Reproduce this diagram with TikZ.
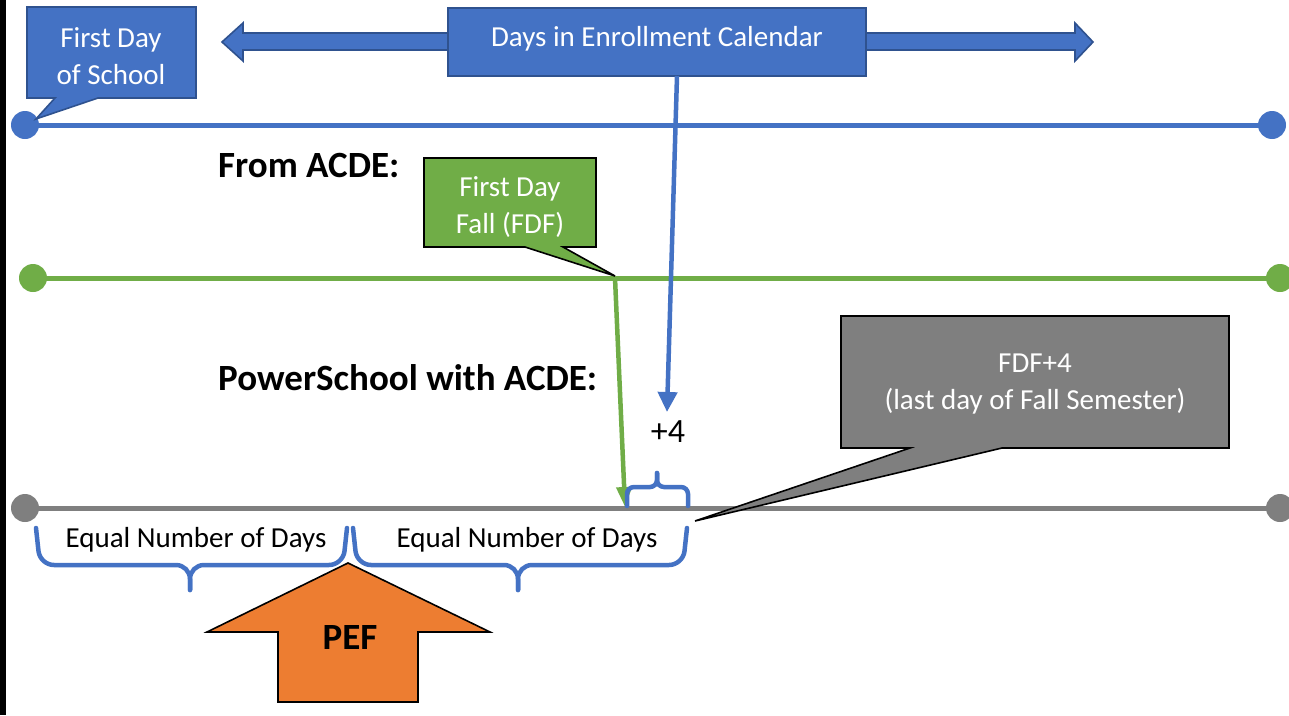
\documentclass[tikz,border=0pt]{standalone}
\usepackage{fontspec}
\setmainfont{Carlito}
\usetikzlibrary{arrows.meta}
\definecolor{cblue}{HTML}{4472C4}
\definecolor{cdblue}{HTML}{2F528F}
\definecolor{cgreen}{HTML}{70AD47}
\definecolor{cgray}{HTML}{7F7F7F}
\definecolor{corange}{HTML}{ED7D31}
\tikzset{
  x=1pt,y=-1pt,
  reg/.style={font=\fontsize{29}{37}\selectfont, align=center, inner sep=0pt},
  boldlbl/.style={font=\fontsize{37}{44}\selectfont\bfseries, inner sep=0pt},
  wtxt/.style={reg, text=white},
  tline/.style={line width=5pt},
  dot/.style={circle, inner sep=0pt, minimum size=28pt},
  callout/.style={draw=black, line width=1.6pt, line join=miter},
  bracestyle/.style={draw=cblue, line width=4.5pt, rounded corners=14pt, line cap=round},
}
\begin{document}
\begin{tikzpicture}
\useasboundingbox (0,0) rectangle (1289,715);
% left black bar
\fill[black] (0,0) rectangle (6,715);

% ---- blue timeline ----
\node[dot, fill=cblue] (bL) at (25,125) {};
\node[dot, fill=cblue] (bR) at (1272,125) {};
\draw[tline, cblue] (bL.center) -- (bR.center);

% double arrow
\filldraw[fill=cblue, draw=cdblue, line width=1.6pt]
  (222,42) -- (243,23) -- (243,33) -- (1075,33) -- (1075,23) -- (1093,42)
  -- (1075,61) -- (1075,50) -- (243,50) -- (243,61) -- cycle;
\node[draw=cdblue, fill=cblue, line width=1.6pt, minimum width=418pt, minimum height=68pt, inner sep=0pt] (days) at (657,42) {};
\node[wtxt] (daystxt) at (657,39) {Days in Enrollment Calendar};

% First Day of School callout
\filldraw[fill=cblue, draw=cdblue, line width=1.6pt]
  (27,7) -- (196,7) -- (196,98) -- (98,98) -- (36,119) -- (55,98) -- (27,98) -- cycle;
\node[wtxt] (fds) at (111,56) {First Day\\of School};

% ---- labels ----
\node[boldlbl, anchor=west] (from) at (218,166) {From ACDE:};
\node[boldlbl, anchor=west] (ps) at (218,378) {PowerSchool with ACDE:};

% ---- green timeline ----
\node[dot, fill=cgreen] (gL) at (33,278) {};
\node[dot, fill=cgreen] (gR) at (1280,278) {};
\draw[tline, cgreen] (gL.center) -- (gR.center);
\filldraw[callout, fill=cgreen]
  (424,158) -- (596,158) -- (596,247) -- (563,247) -- (615,276) -- (525,247) -- (424,247) -- cycle;
\node[wtxt] (fdf) at (510,207) {First Day\\Fall (FDF)};
\coordinate (gtip) at (615,278);

% ---- gray timeline ----
\node[dot, fill=cgray] (yL) at (25,508) {};
\node[dot, fill=cgray] (yR) at (1280,508) {};
\draw[tline, cgray] (yL.center) -- (yR.center);
\coordinate (gend) at (625,507);

% green arrow down
\draw[cgreen, line width=4.5pt, -{Triangle[width=15pt,length=20pt]}] (gtip) -- (gend);

% blue arrow from Days box
\coordinate (bstart) at (677,76);
\coordinate (bend) at (667,412);
\draw[cblue, line width=4.5pt, -{Triangle[width=19pt,length=20pt]}] (bstart) -- (bend);

\node[reg, font=\fontsize{34}{40}\selectfont] (plus) at (668,432) {+4};

% small brace
\draw[bracestyle, rounded corners=7pt] (627,506) -- (627,487) -- (657,487) -- (657,473);
\draw[bracestyle, rounded corners=7pt] (688,506) -- (688,487) -- (657,487) -- (657,473);

% lower braces
\draw[bracestyle] (36,528) -- (40,565) -- (190,565) -- (190,590);
\draw[bracestyle] (347,528) -- (343,565) -- (190,565) -- (190,590);
\draw[bracestyle] (353,528) -- (357,565) -- (518,565) -- (518,590);
\draw[bracestyle] (687,528) -- (683,565) -- (518,565) -- (518,590);
\node[reg] (eq1) at (196,540) {Equal Number of Days};
\node[reg] (eq2) at (527,540) {Equal Number of Days};

% gray callout
\filldraw[callout, fill=cgray]
  (841,316) -- (1229,316) -- (1229,448) -- (1002,448) -- (695,521) -- (910,448) -- (841,448) -- cycle;
\node[wtxt] (fdf4) at (1035,384) {FDF+4\\(last day of Fall Semester)};

% PEF arrow
\filldraw[callout, fill=corange]
  (348,563) -- (490,632) -- (418,632) -- (418,702) -- (278,702) -- (278,632) -- (207,632) -- cycle;
\node[boldlbl] (pef) at (350,637) {PEF};
\end{tikzpicture}
\end{document}
